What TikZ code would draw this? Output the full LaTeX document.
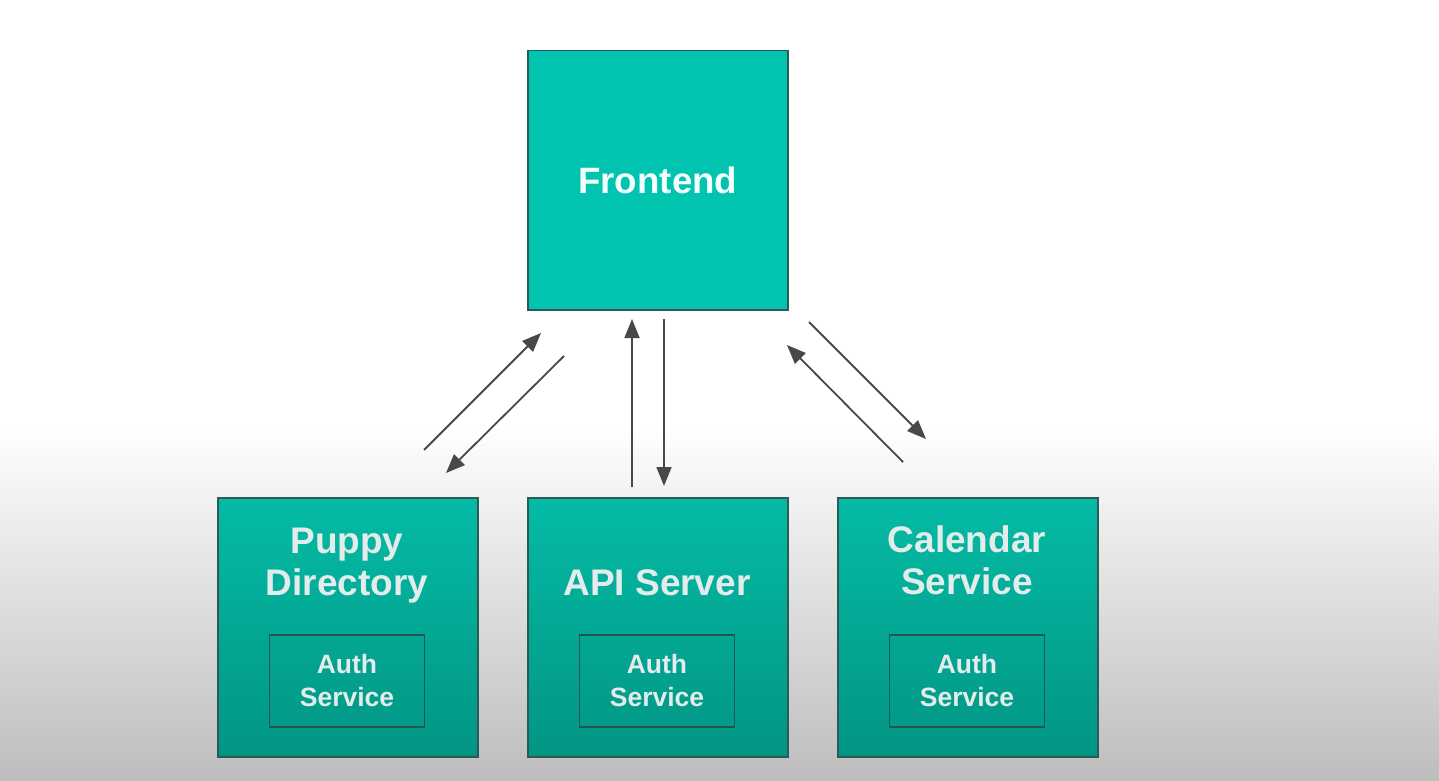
\documentclass[tikz,border=0pt]{standalone}
\usepackage{fontspec}
\setmainfont{Liberation Sans}
\usetikzlibrary{arrows.meta}
\definecolor{bgbot}{HTML}{BDBDBD}
\definecolor{fefill}{HTML}{00C4AF}
\definecolor{btop}{HTML}{04BBA5}
\definecolor{bbot}{HTML}{029584}
\definecolor{boxline}{HTML}{2D5A55}
\definecolor{authline}{HTML}{1F5750}
\definecolor{fetext}{HTML}{F4FFFD}
\definecolor{titlecol}{HTML}{E3ECEA}
\definecolor{arrowcol}{HTML}{484848}
\tikzset{
  box/.style={draw=boxline, line width=1.5pt, minimum width=260pt, minimum height=259pt, inner sep=0pt, anchor=north west},
  lowbox/.style={box, top color=btop, bottom color=bbot},
  title/.style={text=titlecol, font=\fontsize{37}{42}\selectfont\bfseries, align=center, inner sep=0pt},
  authbox/.style={draw=authline, line width=1.5pt, minimum width=155pt, minimum height=92pt, inner sep=0pt, text=titlecol, font=\fontsize{26.5}{33}\selectfont\bfseries, align=center},
  conn/.style={draw=arrowcol, line width=1.8pt, -{Triangle[length=19pt,width=15pt]}}
}
\begin{document}
\begin{tikzpicture}[x=1pt,y=-1pt]
\useasboundingbox (0,0) rectangle (1439,781);
\fill[white] (0,0) rectangle (1439,781);
\shade[top color=white, bottom color=bgbot] (0,425) rectangle (1439,781);

\node[box, fill=fefill, text=fetext, font=\fontsize{36.7}{44}\selectfont\bfseries] (fe) at (527,50) {Frontend};

\node[lowbox] (pd) at (217,497) {};
\node[lowbox] (api) at (527,497) {};
\node[lowbox] (cal) at (837,497) {};

\node[title] (pdt) at (347,566) {Puppy\\Directory};
\node[title] (apit) at (657,583) {API Server};
\node[title] (calt) at (967,560.5) {Calendar\\Service};

\node[authbox] (pda) at (347,681) {Auth\\Service};
\node[authbox] (apia) at (657,681) {Auth\\Service};
\node[authbox] (cala) at (967,681) {Auth\\Service};

\coordinate (a1) at (424,450); \coordinate (a2) at (541,333);
\coordinate (b1) at (564,356); \coordinate (b2) at (446,473);
\coordinate (c1) at (632,487); \coordinate (c2) at (632,319);
\coordinate (d1) at (664,319); \coordinate (d2) at (664,486);
\coordinate (e1) at (903,462); \coordinate (e2) at (787,345);
\coordinate (f1) at (809,322); \coordinate (f2) at (926,439);

\draw[conn] (a1) -- (a2);
\draw[conn] (b1) -- (b2);
\draw[conn] (c1) -- (c2);
\draw[conn] (d1) -- (d2);
\draw[conn] (e1) -- (e2);
\draw[conn] (f1) -- (f2);
\end{tikzpicture}
\end{document}
